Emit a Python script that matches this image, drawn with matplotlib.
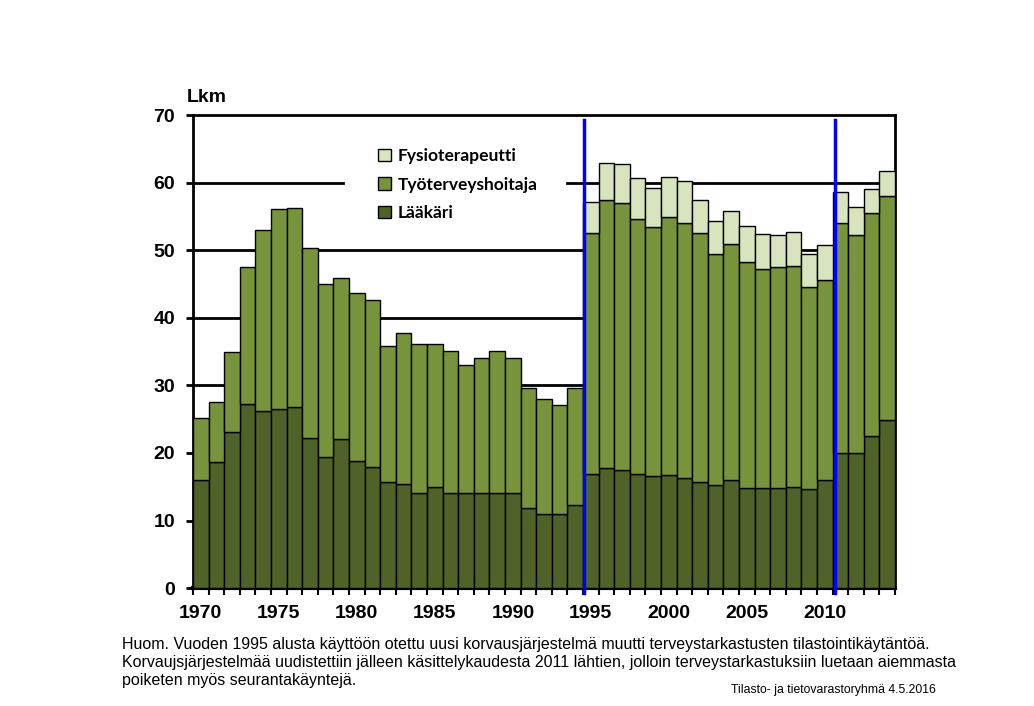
import numpy as np
import matplotlib
matplotlib.use("Agg")
import matplotlib.pyplot as plt
from matplotlib.patches import Patch

NARROW = ['Liberation Sans Narrow', 'Liberation Sans', 'DejaVu Sans']

years = list(range(1970, 2015))

# cumulative heights
laakari = [16.0, 18.6, 23.1, 27.2, 26.2, 26.5, 26.8, 22.2, 19.4, 22.0,
           18.8, 17.9, 15.7, 15.4, 14.1, 14.9, 14.1, 14.1, 14.1, 14.1,
           14.1, 11.8, 10.9, 10.9, 12.3,
           16.9, 17.8, 17.5, 16.9, 16.6, 16.7, 16.3, 15.7, 15.2, 16.0,
           14.8, 14.8, 14.8, 14.9, 14.6, 16.0, 20.0, 20.0, 22.5, 24.9]
laak_plus_th = [25.1, 27.6, 34.9, 47.5, 53.0, 56.1, 56.2, 50.3, 45.0, 45.9,
                43.6, 42.6, 35.8, 37.7, 36.1, 36.1, 35.1, 33.0, 34.0, 35.1,
                34.0, 29.6, 28.0, 27.1, 29.6,
                52.5, 57.5, 57.0, 54.6, 53.4, 54.9, 54.0, 52.5, 49.4, 50.9,
                48.2, 47.2, 47.5, 47.6, 44.5, 45.6, 54.0, 52.2, 55.5, 58.0]
total = [25.1, 27.6, 34.9, 47.5, 53.0, 56.1, 56.2, 50.3, 45.0, 45.9,
         43.6, 42.6, 35.8, 37.7, 36.1, 36.1, 35.1, 33.0, 34.0, 35.1,
         34.0, 29.6, 28.0, 27.1, 29.6,
         57.1, 62.9, 62.7, 60.7, 59.2, 60.9, 60.2, 57.5, 54.3, 55.8,
         53.6, 52.4, 52.2, 52.7, 49.4, 50.7, 58.6, 56.4, 59.0, 61.7]

tyoterveyshoitaja = np.array(laak_plus_th) - np.array(laakari)
fysioterapeutti = np.array(total) - np.array(laak_plus_th)

labels = ['Fysioterapeutti', 'Työterveyshoitaja', 'Lääkäri']
colors = {'Lääkäri': '#4f6228', 'Työterveyshoitaja': '#77933c',
          'Fysioterapeutti': '#d7e4bd'}

break_years = [1994.55, 2010.65]

fig = plt.figure(figsize=(10.34, 7.06), dpi=100)
ax = fig.add_axes([0.1867, 0.167, 0.6789, 0.670])

ax.bar(years, laakari, width=1.0, color=colors['Lääkäri'],
       edgecolor='black', linewidth=1, zorder=3)
ax.bar(years, tyoterveyshoitaja, bottom=laakari, width=1.0,
       color=colors['Työterveyshoitaja'], edgecolor='black', linewidth=1, zorder=3)
fy = [i for i, v in enumerate(fysioterapeutti) if v > 0.05]
ax.bar([years[i] for i in fy], [fysioterapeutti[i] for i in fy],
       bottom=[laak_plus_th[i] for i in fy], width=1.0,
       color=colors['Fysioterapeutti'], edgecolor='black', linewidth=1, zorder=3)

for yy in [30, 40, 50]:
    ax.axhline(yy, color='black', linewidth=2, zorder=1)
# 60 line is broken by the legend
ax.axhline(60, xmax=0.214, color='black', linewidth=2, zorder=1)
ax.axhline(60, xmin=0.533, color='black', linewidth=2, zorder=1)

for bx in break_years:
    ax.plot([bx, bx], [-0.7, 69.3], color='#0000ff', linewidth=2.5,
            zorder=5, clip_on=False)

ax.set_xlim(1969.5, 2014.5)
ax.set_ylim(0, 70)

for s in ax.spines.values():
    s.set_linewidth(2)
ax.spines['bottom'].set_linewidth(3)

ax.set_yticks(range(0, 71, 10))
ax.tick_params(axis='y', direction='out', length=5, width=2, pad=8)
for t in ax.get_yticklabels():
    t.set_fontfamily(NARROW)
    t.set_fontweight('bold')
    t.set_fontsize(14)

ax.set_xticks(range(1970, 2011, 5))
ax.set_xticks(np.arange(1969.5, 2015, 1.0), minor=True)
ax.tick_params(axis='x', which='major', length=0, pad=12)
ax.tick_params(axis='x', which='minor', direction='out', length=5, width=1.5)
for t in ax.get_xticklabels():
    t.set_fontfamily(NARROW)
    t.set_fontweight('bold')
    t.set_fontsize(14)

fig.text(0.181, 0.850, 'Lkm', fontsize=14, fontweight='bold',
         family=NARROW, ha='left', va='bottom')

handles = [Patch(facecolor=colors[l], edgecolor='black', linewidth=1) for l in labels]
leg = ax.legend(handles, labels, loc='upper left', bbox_to_anchor=(0.264, 0.930),
                frameon=False,
                prop={'family': 'Lato', 'weight': 'bold', 'size': 12.5},
                handlelength=0.7, handleheight=0.7, handletextpad=0.4,
                labelspacing=0.71, borderpad=0, borderaxespad=0)
leg.set_zorder(4)

note = ["Huom. Vuoden 1995 alusta käyttöön otettu uusi korvausjärjestelmä muutti terveystarkastusten tilastointikäytäntöä.",
        "Korvaujsjärjestelmää uudistettiin jälleen käsittelykaudesta 2011 lähtien, jolloin terveystarkastuksiin luetaan aiemmasta",
        "poiketen myös seurantakäyntejä."]
for i, line in enumerate(note):
    fig.text(0.118, 0.087 - i * 0.0255, line, fontsize=11.5, family=NARROW,
             ha='left', va='center')

fig.text(0.905, 0.022, 'Tilasto- ja tietovarastoryhmä 4.5.2016', fontsize=8.8,
         family=NARROW, ha='right', va='center')

fig.savefig('out.png', dpi=100)
